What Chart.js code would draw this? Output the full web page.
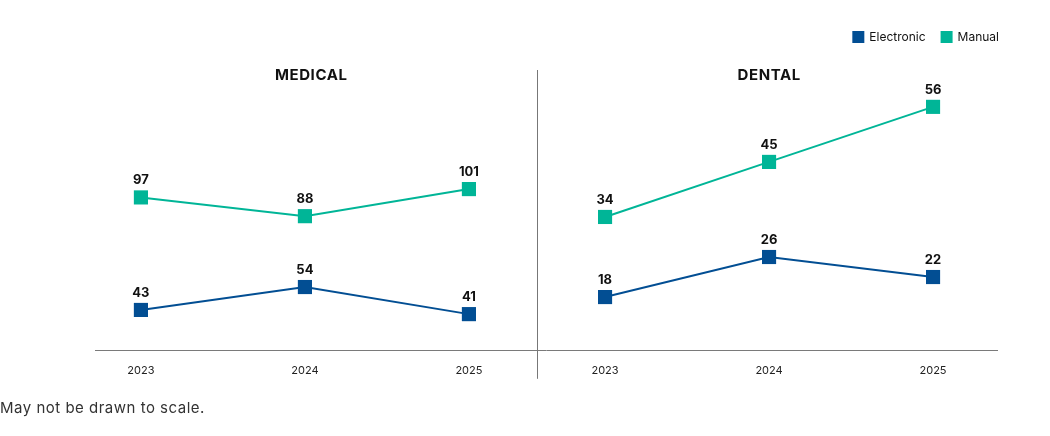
<!DOCTYPE html>
<html>
<head>
<meta charset="utf-8">
<script src="https://cdn.jsdelivr.net/npm/chart.js@4"></script>
<style>
  html, body { margin: 0; padding: 0; background: #fff; }
  #wrap { position: relative; width: 1050px; height: 436px; }
  #note { position: absolute; left: 0; top: 398px; font: 15px Inter, "Noto Sans", sans-serif; letter-spacing: 0.5px; color: #333; }
</style>
</head>
<body>
<div id="wrap">
  <canvas id="c" width="1050" height="436"></canvas>
  <div id="note">May not be drawn to scale.</div>
</div>
<script>
const years = ["2023", "2024", "2025"];
const panels = ["MEDICAL", "DENTAL"];
const seriesNames = ["Electronic", "Manual"];
const medicalElectronic = [43, 54, 41];
const medicalManual = [97, 88, 101];
const dentalElectronic = [18, 26, 22];
const dentalManual = [34, 45, 56];

const BLUE = "#024e93";
const TEAL = "#00b597";
const FONT = "Inter, 'Noto Sans', sans-serif";
const DENTAL_START = 2.83;            // horizontal offset of the second panel (layout)
const DIVIDER = (2 + DENTAL_START) / 2;
const LEGEND_SHIFT = 18;              // legend sits a bit right of the plot edge

function pts(values, start) {
  return values.map((v, i) => ({ x: start + i, y: v }));
}
function ds(label, values, start, color, axis) {
  return {
    label: label,
    data: pts(values, start),
    yAxisID: axis,
    borderColor: color,
    backgroundColor: color,
    borderWidth: 2,
    pointStyle: "rect",
    pointRadius: 10,
    pointHoverRadius: 10,
    pointBorderWidth: 0,
    tension: 0,
    clip: false
  };
}

const datasets = [
  ds(seriesNames[0], medicalElectronic, 0, BLUE, "yM"),
  ds(seriesNames[1], medicalManual, 0, TEAL, "yM"),
  ds(seriesNames[0], dentalElectronic, DENTAL_START, BLUE, "yD"),
  ds(seriesNames[1], dentalManual, DENTAL_START, TEAL, "yD")
];

const decor = {
  id: "decor",
  afterLayout(chart) {
    if (chart.legend) {
      chart.legend.left += LEGEND_SHIFT;
      chart.legend.right += LEGEND_SHIFT;
    }
  },
  afterDatasetsDraw(chart) {
    const ctx = chart.ctx;
    const xs = chart.scales.x;
    const area = chart.chartArea;
    const dx = Math.round(xs.getPixelForValue(DIVIDER)) + 0.5;
    ctx.save();
    // divider
    ctx.strokeStyle = "#777";
    ctx.lineWidth = 1;
    ctx.beginPath();
    ctx.moveTo(dx, 70);
    ctx.lineTo(dx, area.bottom + 28);
    ctx.stroke();
    // panel titles
    ctx.fillStyle = "#111";
    ctx.font = "bold 15px " + FONT;
    ctx.letterSpacing = "0.6px";
    ctx.textAlign = "center";
    ctx.textBaseline = "middle";
    ctx.fillText(panels[0], (area.left + dx) / 2 - 5, 75);
    ctx.fillText(panels[1], (dx + area.right) / 2 + 2, 75);
    // value labels
    ctx.letterSpacing = "0px";
    ctx.font = "bold 13px " + FONT;
    chart.data.datasets.forEach((d, i) => {
      const meta = chart.getDatasetMeta(i);
      meta.data.forEach((p, j) => {
        ctx.fillText(String(d.data[j].y), p.x, p.y - 17);
      });
    });
    ctx.restore();
  }
};

new Chart(document.getElementById("c"), {
  type: "line",
  data: { datasets },
  options: {
    responsive: false,
    animation: false,
    events: [],
    layout: { padding: { left: 95, right: 53, top: 15, bottom: 46 } },
    plugins: {
      tooltip: { enabled: false },
      title: { display: false },
      legend: {
        position: "top",
        align: "end",
        labels: {
          filter: (item) => item.datasetIndex < 2,
          boxWidth: 10,
          boxHeight: 10,
          padding: 16,
          color: "#111",
          font: { family: FONT, size: 12 }
        }
      }
    },
    scales: {
      x: {
        type: "linear",
        min: -0.28,
        max: 5.22,
        afterBuildTicks: (scale) => {
          scale.ticks = [0, 1, 2, DENTAL_START, DENTAL_START + 1, DENTAL_START + 2].map(v => ({ value: v }));
        },
        ticks: {
          autoSkip: false,
          maxRotation: 0,
          padding: 13,
          color: "#222",
          font: { family: FONT, size: 11 },
          callback: (value, index) => years[index % 3]
        },
        grid: { display: false, drawTicks: false },
        border: { display: true, color: "#7a7a7a", width: 1 }
      },
      yM: { type: "linear", display: false, min: 23.4, max: 166.3 },
      yD: { type: "linear", display: false, min: 7.26, max: 66.76 }
    }
  },
  plugins: [decor]
});
</script>
</body>
</html>
